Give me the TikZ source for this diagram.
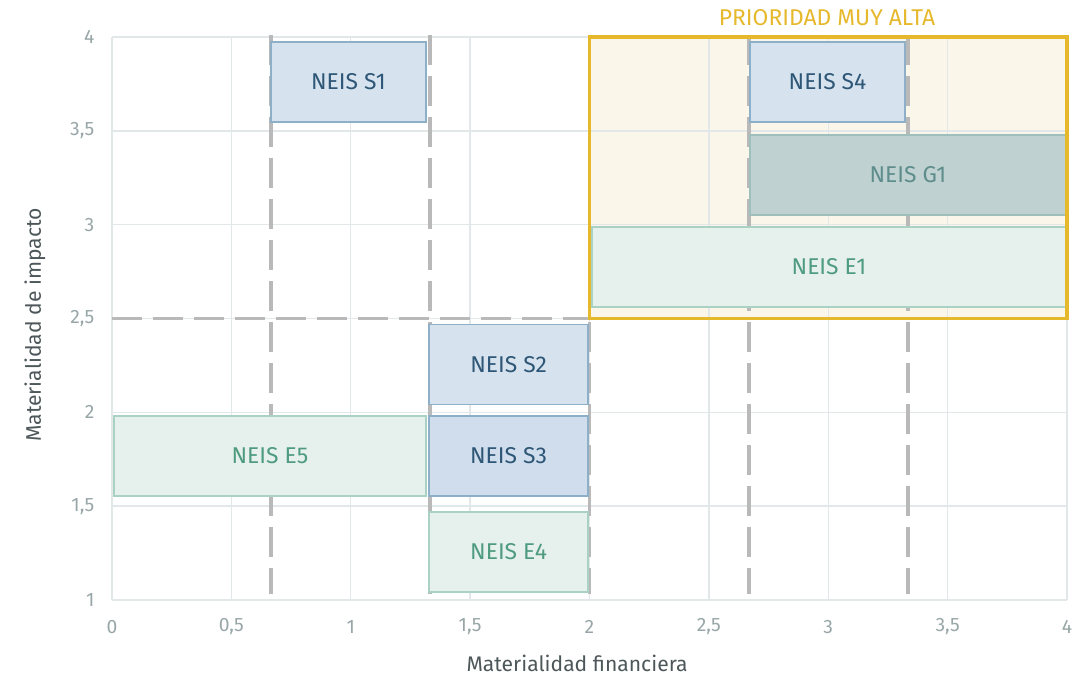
\documentclass[tikz,border=0pt]{standalone}
\usepackage{fontspec}
\setmainfont{Fira Sans}
\usetikzlibrary{positioning}
\definecolor{blueFill}{HTML}{D6E3EE}
\definecolor{blueDeep}{HTML}{CFDDEC}
\definecolor{blueLine}{HTML}{8EAFC8}
\definecolor{blueText}{HTML}{2E5676}
\definecolor{greenFill}{HTML}{E6F0ED}
\definecolor{greenLine}{HTML}{A9D2C5}
\definecolor{greenText}{HTML}{4E9B80}
\definecolor{govFill}{HTML}{BFD2D1}
\definecolor{govLine}{HTML}{9FBFBC}
\definecolor{govText}{HTML}{5E8D8C}
\definecolor{prioLine}{HTML}{E6B82C}
\definecolor{prioFill}{HTML}{FAF6E9}
\definecolor{splitGray}{HTML}{B9B9B9}
\definecolor{gridGray}{HTML}{E2E8EA}
\definecolor{tickGray}{HTML}{98A6A8}
\definecolor{titleGray}{HTML}{4D5759}
\tikzset{
    cell/.style={draw, line width=0.7pt, minimum height=1.6cm, inner sep=0pt,
                 font=\fontsize{13}{15}\selectfont},
    social/.style={cell, fill=blueFill, draw=blueLine, text=blueText},
    socialdeep/.style={social, fill=blueDeep},
    env/.style={cell, fill=greenFill, draw=greenLine, text=greenText},
    gov/.style={cell, fill=govFill, draw=govLine, text=govText},
    split/.style={draw=splitGray, line width=2.2pt, dash pattern=on 0.6cm off 0.22cm},
    gridline/.style={draw=gridGray, line width=0.8pt},
    ticklabel/.style={text=tickGray, font=\fontsize{11}{13}\selectfont, inner sep=1pt},
    axistitle/.style={text=titleGray, font=\fontsize{12}{14}\selectfont},
    prio/.style={draw=prioLine, line width=2.2pt},
}

\begin{document}
\begin{tikzpicture}[x=4.775cm, y=3.7533cm]

    \useasboundingbox (-0.4691,0.5950) rectangle (4.0461,4.1972);

    % priority zone and grid
    \fill[prioFill] (2,2.5) rectangle (4,4);
    \foreach \x in {0,0.5,...,4}
        \draw[gridline] (\x,1) -- (\x,4);
    \foreach \y in {1,1.5,...,4}
        \draw[gridline] (0,\y) -- (4,\y);

    % thirds
    \foreach \x in {0.6667,1.3333,2,2.6667,3.3333}
        \draw[split] (\x,4.01) -- (\x,1.03);
    \draw[split] (0,2.5) -- (4,2.5);

    % topics
    \node[social, minimum width=3.1cm] (s1) at (0.9906,3.760) {NEIS S1};
    \node[social, minimum width=3.1cm] (s4) at (2.997,3.760) {NEIS S4};
    \node[gov, minimum width=6.32cm] (g1) at (3.334,3.265) {NEIS G1};
    \node[env, minimum width=9.48cm] (e1) at (3.003,2.7745) {NEIS E1};
    \node[social, minimum width=3.18cm] (s2) at (1.661,2.255) {NEIS S2};
    \node[socialdeep, minimum width=3.18cm] (s3) at (1.661,1.767) {NEIS S3};
    \node[env, minimum width=6.24cm] (e5) at (0.6618,1.767) {NEIS E5};
    \node[env, minimum width=3.18cm] (e4) at (1.661,1.256) {NEIS E4};

    \draw[prio] (2,2.5) rectangle (4,4);
    \node[text=prioLine, font=\fontsize{13}{15}\selectfont] (prioname) at (2.995,4.101) {PRIORIDAD MUY ALTA};

    % axes
    \foreach \v/\t [count=\i] in {1/1,1.5/{1,5},2/2,2.5/{2,5},3/3,3.5/{3,5},4/4}
        \node[ticklabel, anchor=east] (ytick\i) at (-0.065,\v) {\t};
    \foreach \v/\t [count=\i] in {0/0,0.5/{0,5},1/1,1.5/{1,5},2/2,2.5/{2,5},3/3,3.5/{3,5},4/4}
        \node[ticklabel] (xtick\i) at (\v,0.856) {\t};
    \node[axistitle] (xtitle) at (1.948,0.664) {Materialidad financiera};
    \node[axistitle, rotate=90] (ytitle) at (-0.3225,2.465) {Materialidad de impacto};

\end{tikzpicture}
\end{document}
